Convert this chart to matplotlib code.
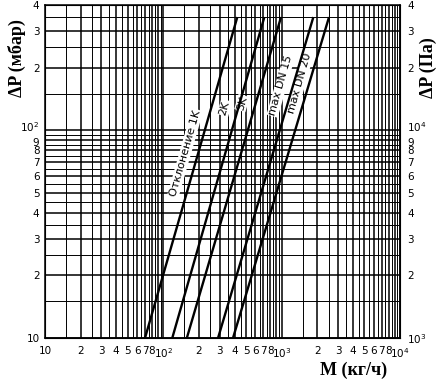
import matplotlib.pyplot as plt
from matplotlib.ticker import NullFormatter
from matplotlib.transforms import ScaledTranslation
import numpy as np

# line endpoints (M in kg/h at dP = 10 and 350 mbar)
line_names = ['Отклонение 1K', '2K', '3K', 'max DN 15', 'max DN 20']
m_start = [70, 119, 158, 290, 388]
m_end = [422, 714, 988, 1853, 2514]
dp_start = [10, 10, 10, 10, 10]
dp_end = [350, 350, 350, 350, 350]

# label anchors (center of text), just left of each line
label_m = [153, 330, 462, 985, 1420]
label_dp = [77.5, 128, 135, 164, 168]

# grid values
x_major = [10, 20, 30, 40, 50, 60, 70, 80, 90,
           100, 200, 300, 400, 500, 600, 700, 800, 900,
           1000, 2000, 3000, 4000, 5000, 6000, 7000, 8000, 9000, 10000]
x_labels = ['10', '2', '3', '4', '5', '6', '7', '8', '',
            '$10^2$', '2', '3', '4', '5', '6', '7', '8', '',
            '$10^3$', '2', '3', '4', '5', '6', '7', '8', '', '$10^4$']
x_minor = [15, 25, 35, 45, 55, 65, 75, 85, 95,
           150, 250, 350, 450, 550, 650, 750, 850, 950,
           1500, 2500, 3500, 4500, 5500, 6500, 7500, 8500, 9500]
y_major = [10, 20, 30, 40, 50, 60, 70, 80, 90, 100, 200, 300, 400]
y_labels = ['10', '2', '3', '4', '5', '6', '7', '8', '9', '$10^2$', '2', '3', '4']
y_minor = [15, 25, 35, 45, 55, 65, 75, 85, 95, 150, 250, 350]
pa_ticks = [1000, 2000, 3000, 4000, 5000, 6000, 7000, 8000, 9000, 10000, 20000, 30000, 40000]
pa_labels = ['$10^3$', '2', '3', '4', '5', '6', '7', '8', '9', '$10^4$', '2', '3', '4']

fig = plt.figure(figsize=(4.43, 3.84), dpi=100)
ax = fig.add_axes([45/443, 46/384, 355/443, 333/384])
ax.set_xscale('log')
ax.set_yscale('log')
ax.set_xlim(10, 1e4)
ax.set_ylim(10, 400)

ax.set_xticks(x_major, x_labels)
ax.set_xticks(x_minor, minor=True)
ax.set_yticks(y_major, y_labels)
ax.set_yticks(y_minor, minor=True)
ax.xaxis.set_minor_formatter(NullFormatter())
ax.yaxis.set_minor_formatter(NullFormatter())
ax.tick_params(which='both', length=0, labelsize=7.5)
ax.tick_params(axis='x', pad=6)
ax.tick_params(axis='y', pad=4)
ax.set_axisbelow(True)
ax.grid(which='major', color='black', lw=1.1)
ax.grid(which='minor', color='black', lw=0.7)
for s in ax.spines.values():
    s.set_linewidth(1.1)

for i in range(len(line_names)):
    ax.plot([m_start[i], m_end[i]], [dp_start[i], dp_end[i]],
            color='black', lw=1.7, zorder=4, solid_capstyle='butt')
    ax.text(label_m[i], label_dp[i], line_names[i], rotation=74,
            rotation_mode='anchor', ha='center', va='center', fontsize=8,
            bbox=dict(fc='white', ec='none', pad=0.6), zorder=3)

ax2 = ax.twinx()
ax2.set_yscale('log')
ax2.set_ylim(1e3, 4e4)
ax2.set_yticks(pa_ticks, pa_labels)
ax2.yaxis.set_minor_formatter(NullFormatter())
ax2.tick_params(which='both', length=0, labelsize=7.5, pad=5)
ax2.grid(False)

# crowded labels near the decade: nudge 10^n up and 9 down a bit
up = ScaledTranslation(0, 3/72, fig.dpi_scale_trans)
down = ScaledTranslation(0, -1.5/72, fig.dpi_scale_trans)
for t in ax.get_yticklabels() + ax2.get_yticklabels():
    if t.get_text() in ('$10^2$', '$10^4$'):
        t.set_transform(t.get_transform() + up)
    elif t.get_text() == '9':
        t.set_transform(t.get_transform() + down)

lab = dict(fontfamily='Liberation Serif', fontweight='bold', fontsize=13)
fig.text(17/443, 1 - 58/384, 'ΔP (мбар)', rotation=90, ha='center', va='center', **lab)
fig.text(428/443, 1 - 68/384, 'ΔP (Па)', rotation=90, ha='center', va='center', **lab)
fig.text(354/443, 1 - 370/384, 'M (кг/ч)', ha='center', va='center', **lab)

fig.savefig('out.png', dpi=100)
